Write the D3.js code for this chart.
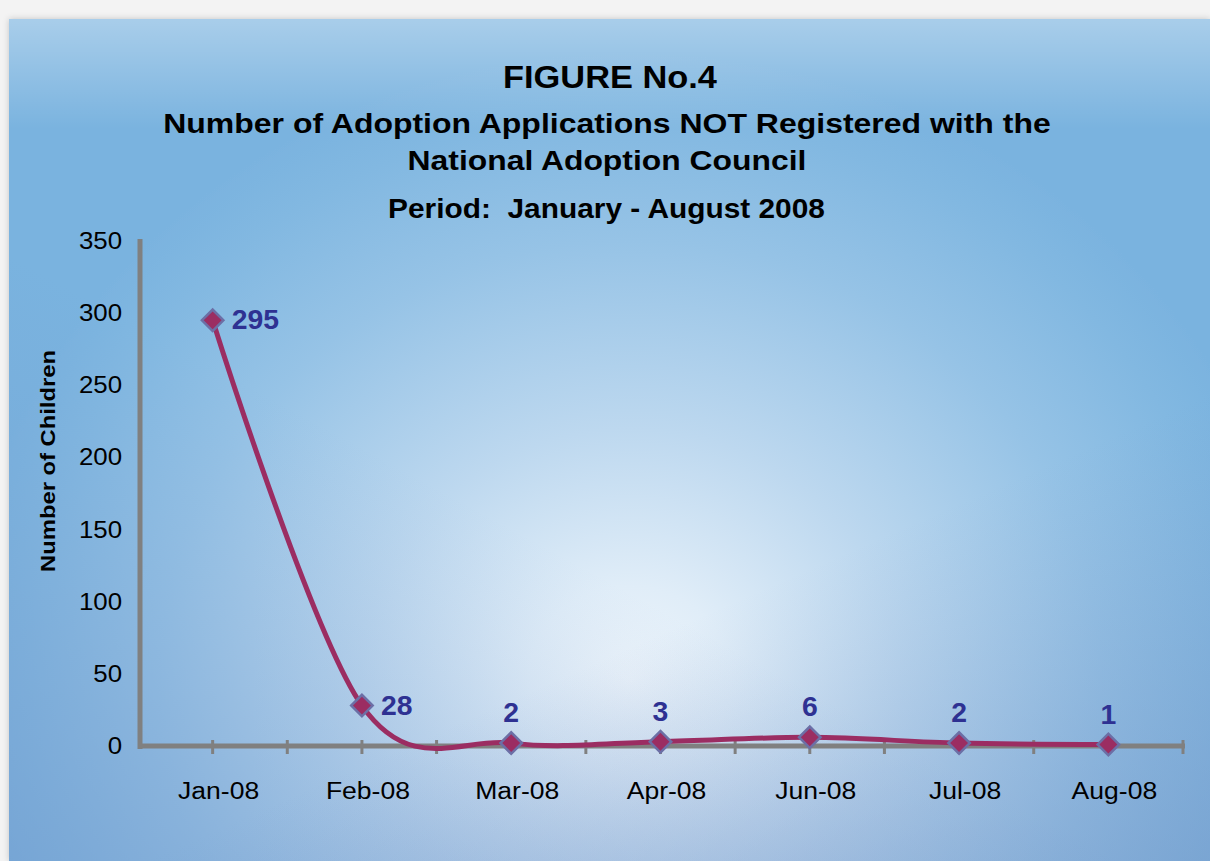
<!DOCTYPE html>
<html>
<head>
<meta charset="utf-8">
<script src="https://cdn.jsdelivr.net/npm/d3@7"></script>
<style>
  html, body { margin: 0; padding: 0; background: #f2f2f2; }
  svg { display: block; }
  text { font-family: "Liberation Sans", Arial, sans-serif; }
</style>
</head>
<body>
<svg id="chart" width="1210" height="861"></svg>
<script>
// ---- Data ----
const categories = ["Jan-08", "Feb-08", "Mar-08", "Apr-08", "Jun-08", "Jul-08", "Aug-08"];
const values = [295, 28, 2, 3, 6, 2, 1];
const yTicks = [0, 50, 100, 150, 200, 250, 300, 350];
const titleText = "FIGURE No.4";
const subtitleLines = ["Number of Adoption Applications NOT Registered with the", "National Adoption Council"];
const periodText = "Period:  January - August 2008";
const yTitle = "Number of Children";

// ---- Setup ----
const W = 1210, H = 861;
const svg = d3.select("#chart");
const defs = svg.append("defs");

// horizontal glyph stretch (reference font renders wider than Arial at the same height)
function stretchTo(sel, targetWidth) {
  sel.each(function () {
    const t = d3.select(this);
    const len = this.getComputedTextLength();
    const f = targetWidth / len;
    const x = +t.attr("x") || 0;
    const prev = t.attr("transform") || "";
    t.attr("transform", `${prev} translate(${x},0) scale(${f},1) translate(${-x},0)`);
  });
}
function stretchBy(sel, f) {
  sel.each(function () {
    const t = d3.select(this);
    const x = +t.attr("x") || 0;
    const prev = t.attr("transform") || "";
    t.attr("transform", `${prev} translate(${x},0) scale(${f},1) translate(${-x},0)`);
  });
}

const rg = defs.append("radialGradient").attr("id", "bg")
  .attr("gradientUnits", "userSpaceOnUse")
  .attr("cx", 630).attr("cy", 680).attr("r", 640)
  .attr("gradientTransform", "translate(630,680) scale(1.05,0.98) translate(-630,-680)");
[[0, "#eef5fb"], [0.15, "#e0edf8"], [0.4, "#bdd8ef"], [0.7, "#96c3e6"], [0.9, "#82b8e1"], [1, "#7ab3df"]]
  .forEach(([o, c]) => rg.append("stop").attr("offset", o).attr("stop-color", c));

const topGlow = defs.append("linearGradient").attr("id", "topglow")
  .attr("x1", 0).attr("y1", 0).attr("x2", 0).attr("y2", 1);
topGlow.append("stop").attr("offset", 0).attr("stop-color", "#ffffff").attr("stop-opacity", 0.35);
topGlow.append("stop").attr("offset", 1).attr("stop-color", "#ffffff").attr("stop-opacity", 0);

const blGlow = defs.append("linearGradient").attr("id", "bl")
  .attr("x1", 0).attr("y1", 1).attr("x2", 0.35).attr("y2", 0.55);
blGlow.append("stop").attr("offset", 0).attr("stop-color", "#6f93c8").attr("stop-opacity", 0.45);
blGlow.append("stop").attr("offset", 1).attr("stop-color", "#6f93c8").attr("stop-opacity", 0);

const brGlow = defs.append("linearGradient").attr("id", "br")
  .attr("x1", 1).attr("y1", 1).attr("x2", 0.75).attr("y2", 0.6);
brGlow.append("stop").attr("offset", 0).attr("stop-color", "#7393c5").attr("stop-opacity", 0.5);
brGlow.append("stop").attr("offset", 1).attr("stop-color", "#7393c5").attr("stop-opacity", 0);

const sh = defs.append("filter").attr("id", "shadow").attr("x", -0.05).attr("y", -0.05).attr("width", 1.1).attr("height", 1.1);
sh.append("feGaussianBlur").attr("in", "SourceAlpha").attr("stdDeviation", 3).attr("result", "b");
sh.append("feFlood").attr("flood-color", "#000").attr("flood-opacity", 0.2);
sh.append("feComposite").attr("in2", "b").attr("operator", "in");
const m = sh.append("feMerge");
m.append("feMergeNode");
m.append("feMergeNode").attr("in", "SourceGraphic");

svg.append("rect").attr("width", W).attr("height", H).attr("fill", "#f3f3f3");
svg.append("rect").attr("x", 9).attr("y", 19).attr("width", W - 9).attr("height", H - 19)
  .attr("fill", "url(#bg)").attr("filter", "url(#shadow)");
svg.append("rect").attr("x", 9).attr("y", 19).attr("width", W - 9).attr("height", 110)
  .attr("fill", "url(#topglow)");
svg.append("rect").attr("x", 9).attr("y", 19).attr("width", W - 9).attr("height", H - 19)
  .attr("fill", "url(#bl)");
svg.append("rect").attr("x", 9).attr("y", 19).attr("width", W - 9).attr("height", H - 19)
  .attr("fill", "url(#br)");

// ---- Titles ----
svg.append("text").attr("x", 610).attr("y", 88).attr("text-anchor", "middle")
  .attr("font-size", 32).attr("font-weight", "bold").attr("fill", "#000").text(titleText)
  .call(stretchTo, 214);
const subWidths = [888, 399];
subtitleLines.forEach((t, i) => {
  svg.append("text").attr("x", 607).attr("y", 133 + i * 37).attr("text-anchor", "middle")
    .attr("font-size", 27.5).attr("font-weight", "bold").attr("fill", "#000").text(t)
    .call(stretchTo, subWidths[i]);
});
svg.append("text").attr("x", 606.5).attr("y", 218).attr("text-anchor", "middle")
  .attr("font-size", 27).attr("font-weight", "bold").attr("fill", "#000")
  .style("white-space", "pre").text(periodText)
  .call(stretchTo, 437);

// ---- Scales ----
const x = d3.scaleBand().domain(categories).range([138, 1183]).paddingInner(0).paddingOuter(0);
const y = d3.scaleLinear().domain([0, 350]).range([746, 241]);
const bw = x.bandwidth();
const cxOf = c => x(c) + bw / 2;

// ---- Y axis ----
const yAxis = svg.append("g").attr("transform", "translate(140,0)")
  .call(d3.axisLeft(y).tickValues(yTicks).tickSize(0).tickPadding(18).tickFormat(d3.format("d")));
yAxis.select(".domain").remove();
yAxis.selectAll("text").attr("font-size", 23.5).attr("fill", "#000")
  .attr("font-family", "'Liberation Sans', Arial, sans-serif")
  .call(stretchBy, 1.1);
svg.append("line").attr("x1", 140).attr("x2", 140).attr("y1", y(350) - 2).attr("y2", y(0) + 3)
  .attr("stroke", "#808080").attr("stroke-width", 5);

const yt = svg.append("g").attr("transform", `translate(55,461) rotate(-90)`);
yt.append("text").attr("x", 0).attr("y", 0)
  .attr("text-anchor", "middle").attr("font-size", 21).attr("font-weight", "bold")
  .attr("fill", "#000").text(yTitle)
  .call(stretchTo, 222);

// ---- X axis ----
const xAxis = svg.append("g").attr("transform", `translate(0,${y(0)})`)
  .call(d3.axisBottom(x).tickSize(8).tickPadding(28));
xAxis.select(".domain").remove();
xAxis.selectAll(".tick line").attr("y1", -6).attr("y2", 8).attr("stroke", "#808080").attr("stroke-width", 3);
xAxis.selectAll(".tick text").attr("font-size", 23.5).attr("fill", "#000")
  .attr("x", 6).attr("font-family", "'Liberation Sans', Arial, sans-serif")
  .call(stretchBy, 1.13);
// boundary tick marks
const bounds = categories.map(c => x(c) + bw);
svg.append("g").selectAll("line").data(bounds).join("line")
  .attr("x1", d => d).attr("x2", d => d)
  .attr("y1", y(0) - 6).attr("y2", y(0) + 8)
  .attr("stroke", "#808080").attr("stroke-width", 3);
svg.append("line").attr("x1", 138).attr("x2", 1185).attr("y1", y(0)).attr("y2", y(0))
  .attr("stroke", "#808080").attr("stroke-width", 5);

// ---- Line ----
const pts = categories.map((c, i) => ({ c, v: values[i] }));
const line = d3.line().x(d => cxOf(d.c)).y(d => y(d.v)).curve(d3.curveCardinal.tension(0));
svg.append("path").datum(pts).attr("d", line).attr("fill", "none")
  .attr("stroke", "#9b2d62").attr("stroke-width", 5).attr("stroke-linejoin", "round");

// ---- Markers ----
const diamond = d3.symbol().type(d3.symbolSquare).size(230);
svg.append("g").selectAll("path").data(pts).join("path")
  .attr("d", diamond)
  .attr("transform", d => `translate(${cxOf(d.c)},${y(d.v)}) rotate(45)`)
  .attr("fill", "#9b2d62").attr("stroke", "#6c6fa6").attr("stroke-width", 2.5);

// ---- Data labels ----
svg.append("g").selectAll("text").data(pts).join("text")
  .attr("x", d => d.v > 10 ? cxOf(d.c) + 19 : cxOf(d.c))
  .attr("y", d => d.v > 10 ? y(d.v) + 9 : y(d.v) - 21)
  .attr("text-anchor", d => d.v > 10 ? "start" : "middle")
  .attr("font-size", 27).attr("font-weight", "bold").attr("fill", "#2e3192")
  .text(d => d.v)
  .call(stretchBy, 1.05);
</script>
</body>
</html>
